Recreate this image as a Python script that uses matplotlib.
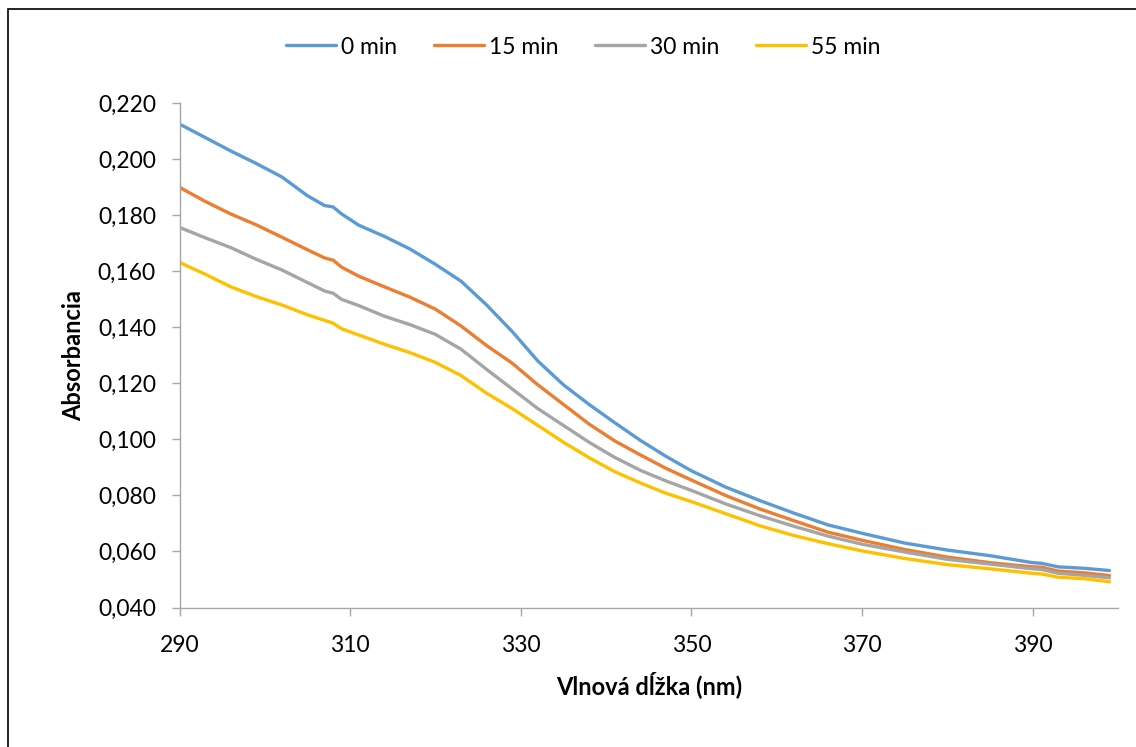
import matplotlib
matplotlib.use("Agg")
import matplotlib.pyplot as plt
from matplotlib.patches import Rectangle
from matplotlib.ticker import FuncFormatter, FixedLocator

wavelength = [290, 293, 296, 299, 302, 305, 307, 308, 309, 311, 314, 317, 320, 323,
              326, 329, 332, 335, 338, 341, 344, 347, 350, 354, 358, 362, 366, 370,
              375, 380, 385, 390, 391, 393, 396, 399]

abs_0min = [0.2126, 0.2078, 0.2030, 0.1985, 0.1937, 0.1870, 0.1835, 0.1830, 0.1805, 0.1765,
            0.1725, 0.1680, 0.1625, 0.1565, 0.1480, 0.1385, 0.1280, 0.1195, 0.1125, 0.1060,
            0.0997, 0.0940, 0.0888, 0.0830, 0.0782, 0.0737, 0.0695, 0.0665, 0.0630, 0.0605,
            0.0585, 0.0560, 0.0558, 0.0545, 0.0540, 0.0532]
abs_15min = [0.1900, 0.1850, 0.1805, 0.1766, 0.1722, 0.1677, 0.1648, 0.1640, 0.1615, 0.1583,
             0.1545, 0.1508, 0.1465, 0.1405, 0.1335, 0.1272, 0.1195, 0.1125, 0.1055, 0.0995,
             0.0945, 0.0897, 0.0855, 0.0800, 0.0752, 0.0710, 0.0669, 0.0640, 0.0607, 0.0580,
             0.0560, 0.0545, 0.0544, 0.0530, 0.0524, 0.0514]
abs_30min = [0.1757, 0.1720, 0.1685, 0.1643, 0.1605, 0.1560, 0.1530, 0.1522, 0.1500, 0.1478,
             0.1440, 0.1410, 0.1375, 0.1322, 0.1250, 0.1180, 0.1110, 0.1050, 0.0990, 0.0936,
             0.0890, 0.0852, 0.0818, 0.0770, 0.0728, 0.0690, 0.0655, 0.0626, 0.0598, 0.0572,
             0.0555, 0.0538, 0.0536, 0.0522, 0.0515, 0.0506]
abs_55min = [0.1632, 0.1590, 0.1545, 0.1510, 0.1480, 0.1445, 0.1425, 0.1415, 0.1395, 0.1373,
             0.1340, 0.1310, 0.1275, 0.1228, 0.1165, 0.1110, 0.1050, 0.0990, 0.0935, 0.0885,
             0.0845, 0.0808, 0.0778, 0.0735, 0.0692, 0.0657, 0.0628, 0.0602, 0.0575, 0.0553,
             0.0538, 0.0522, 0.0520, 0.0508, 0.0503, 0.0492]

series_labels = ["0 min", "15 min", "30 min", "55 min"]
series_colors = ["#5B9BD5", "#ED7D31", "#A5A5A5", "#FFC000"]
x_ticks = [290, 310, 330, 350, 370, 390]
y_ticks = [0.040, 0.060, 0.080, 0.100, 0.120, 0.140, 0.160, 0.180, 0.200, 0.220]

plt.rcParams['font.family'] = ['Lato', 'DejaVu Sans']

W, H = 1136, 747
fig = plt.figure(figsize=(W / 100, H / 100), dpi=100)
fig.patches.append(Rectangle((8 / W, -0.1), 1.2, 1 - 9 / H + 0.1, transform=fig.transFigure,
                             fill=False, edgecolor="black", linewidth=1.2))

ax = fig.add_axes([179.5 / W, 1 - 607.5 / H, (1118 - 179.5) / W, (607.5 - 103.3) / H])
for vals, lab, col in zip([abs_0min, abs_15min, abs_30min, abs_55min], series_labels, series_colors):
    ax.plot(wavelength, vals, color=col, lw=2.4, label=lab, solid_capstyle="round")

ax.set_xlim(290, 400)
ax.set_ylim(0.040, 0.220)
ax.xaxis.set_major_locator(FixedLocator(x_ticks))
ax.yaxis.set_major_locator(FixedLocator(y_ticks))
ax.yaxis.set_major_formatter(FuncFormatter(lambda v, p: f"{v:.3f}".replace(".", ",")))
for s in ["top", "right"]:
    ax.spines[s].set_visible(False)
for s in ["left", "bottom"]:
    ax.spines[s].set_color("#A6A6A6")
    ax.spines[s].set_linewidth(1.0)
ax.tick_params(axis="both", colors="#A6A6A6", labelcolor="black", labelsize=16.5,
               length=6, width=1.0, direction="out")
ax.tick_params(axis="x", pad=14)
ax.tick_params(axis="y", pad=11)

ax.set_xlabel("Vlnová dĺžka (nm)", fontsize=17, fontweight="bold", labelpad=11)
ax.set_ylabel("Absorbancia", fontsize=17, fontweight="bold", labelpad=9)

fig.legend(loc="center", bbox_to_anchor=(583 / W, 1 - 47 / H), ncol=4, frameon=False,
           fontsize=16.5, handlelength=2.2, columnspacing=1.6, handletextpad=0.2)

fig.savefig("out.png", dpi=100)
